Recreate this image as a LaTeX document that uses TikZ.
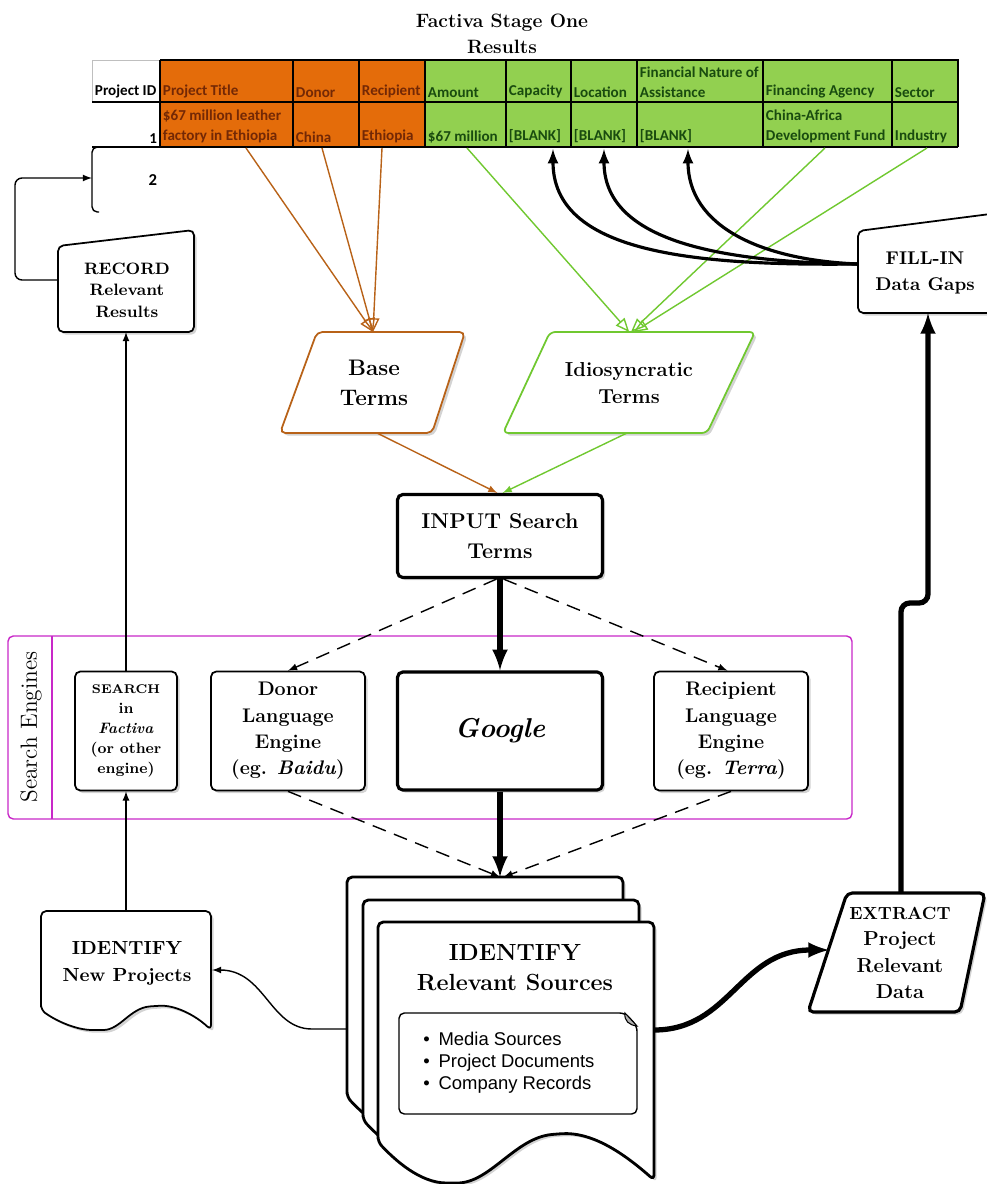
\documentclass[tikz,border=0pt]{standalone}
\usepackage{fontspec}
\newfontfamily\cellfont{Carlito}
\newfontfamily\listfont{Liberation Sans}
\usetikzlibrary{positioning,arrows,shadows}

\definecolor{cellorange}{RGB}{228,108,10}
\definecolor{cellgreen}{RGB}{146,208,80}
\definecolor{orangeink}{RGB}{115,40,5}
\definecolor{greenink}{RGB}{25,75,15}
\definecolor{basebrown}{RGB}{184,98,24}
\definecolor{idiogreen}{RGB}{112,200,48}
\definecolor{framepink}{RGB}{200,40,200}

\tikzset{
	procbox/.style={draw, line width=1pt, fill=white, rounded corners=3pt,
		drop shadow={shadow xshift=1.5pt, shadow yshift=-1.5pt, opacity=0.35}},
	heavybox/.style={procbox, line width=1.8pt},
	boxtext/.style={font=\bfseries, align=center, inner sep=0pt},
	cellhead/.style={anchor=south west, inner sep=1.5pt, align=left,
		font=\cellfont\bfseries\fontsize{8.6}{11.5}\selectfont},
	thinarrow/.style={draw, line width=0.8pt, -latex, rounded corners=4pt},
	heavyarrow/.style={draw, line width=3pt, -latex},
	fillarrow/.style={draw, line width=1.8pt, -latex},
	dasharrow/.style={draw, line width=0.8pt, dash pattern=on 8pt off 5pt, -latex},
	basearrow/.style={draw=basebrown, line width=0.8pt, -open triangle 45},
	idioarrow/.style={draw=idiogreen, line width=0.8pt, -open triangle 45},
	sheet/.style={draw, line width=1.6pt, fill=white, rounded corners=3pt,
		drop shadow={shadow xshift=1.5pt, shadow yshift=-1.5pt, opacity=0.35}}
}

\begin{document}
\begin{tikzpicture}[x=0.02cm, y=-0.02cm]
	\useasboundingbox (0,0) rectangle (987,1184);

	% Stage one table
	\node[boxtext, font=\bfseries\fontsize{11}{14.7}\selectfont] (title) at (502,34) {Factiva Stage One\\Results};
	\fill[cellorange] (160,60) rectangle (425,147);
	\fill[cellgreen] (425,60) rectangle (958,147);
	\draw[black!25] (160,60) -- (92,60) -- (92,102);
	\draw[line width=0.8pt] (160,60) -- (958,60) -- (958,147) (92,102) -- (958,102) (92,147) -- (958,147);
	\foreach \cx in {160,293,359,425,506,571,637,763,892}
		\draw[line width=0.8pt] (\cx,60) -- (\cx,147);

	\node[cellhead] (hdid) at (92,101) {Project ID};
	\node[cellhead, text=orangeink] (hdtitle) at (160,101) {Project Title};
	\node[cellhead, text=orangeink] (hddonor) at (293,101) {Donor};
	\node[cellhead, text=orangeink] (hdrecip) at (359,101) {Recipient};
	\node[cellhead, text=greenink] (hdamount) at (425,101) {Amount};
	\node[cellhead, text=greenink] (hdcap) at (506,101) {Capacity};
	\node[cellhead, text=greenink] (hdloc) at (571,101) {Location};
	\node[cellhead, text=greenink] (hdfin) at (637,101) {Financial Nature of\\Assistance};
	\node[cellhead, text=greenink] (hdagency) at (763,101) {Financing Agency};
	\node[cellhead, text=greenink] (hdsector) at (892,101) {Sector};

	\node[cellhead, anchor=south east] (idone) at (160,146) {1};
	\node[cellhead, text=orangeink] (dttitle) at (160,146) {\$67 million leather\\factory in Ethiopia};
	\node[cellhead, text=orangeink] (dtdonor) at (293,146) {China};
	\node[cellhead, text=orangeink] (dtrecip) at (359,146) {Ethiopia};
	\node[cellhead, text=greenink] (dtamount) at (425,146) {\$67 million};
	\node[cellhead, text=greenink] (dtcap) at (506,146) {[BLANK]};
	\node[cellhead, text=greenink] (dtloc) at (571,146) {[BLANK]};
	\node[cellhead, text=greenink] (dtfin) at (637,146) {[BLANK]};
	\node[cellhead, text=greenink] (dtagency) at (763,146) {China-Africa\\Development Fund};
	\node[cellhead, text=greenink] (dtsector) at (892,146) {Industry};

	% Row two
	\node[cellhead, anchor=east, font=\cellfont\bfseries\fontsize{9.5}{11}\selectfont] (idtwo) at (160,180) {2};
	\draw[line width=0.8pt, rounded corners=3pt] (100,147) -- (92,147) -- (92,212) -- (99,212);
	\coordinate (row2) at (92,178);

	\coordinate (titleC) at (246,148);
	\coordinate (donorC) at (322,148);
	\coordinate (recipC) at (382,148);
	\coordinate (amountC) at (467,148);
	\coordinate (capC) at (553,149);
	\coordinate (locC) at (604,149);
	\coordinate (finC) at (688,149);
	\coordinate (agencyC) at (825,148);
	\coordinate (sectorC) at (927,148);

	% Record
	\filldraw[procbox] (58,246) -- (194,230) -- (194,332) -- (58,332) -- cycle;
	\node[boxtext, font=\bfseries\fontsize{9.4}{12.2}\selectfont] (record) at (127,290) {RECORD\\Relevant\\Results};
	\coordinate (recordW) at (58,280);
	\coordinate (recordS) at (126,332);
	\draw[thinarrow] (recordW) -- (15,280) |- (row2);

	% Search terms
	\filldraw[procbox, draw=basebrown] (317,332) -- (465,332) -- (432,433) -- (280,433) -- cycle;
	\node[boxtext, font=\bfseries\fontsize{12.8}{17}\selectfont] (base) at (374,383) {Base\\Terms};
	\filldraw[procbox, draw=idiogreen] (550,332) -- (755,332) -- (707,433) -- (503,433) -- cycle;
	\node[boxtext, font=\bfseries\fontsize{11.5}{15.3}\selectfont] (idio) at (629,383) {Idiosyncratic\\Terms};
	\coordinate (baseN) at (373,332);
	\coordinate (baseS) at (377,433);
	\coordinate (idioN) at (631,332);
	\coordinate (idioS) at (627,433);

	\foreach \src in {titleC,donorC,recipC}
		\draw[basearrow] (\src) -- (baseN);
	\draw[idioarrow] (amountC) -- ([xshift=-1pt]idioN);
	\draw[idioarrow] (agencyC) -- (idioN);
	\draw[idioarrow] (sectorC) -- ([xshift=1.5pt]idioN);

	% Input
	\node[heavybox, boxtext, minimum width=4.1cm, minimum height=1.66cm, font=\bfseries\fontsize{12.2}{17.5}\selectfont] (input) at (500,536) {INPUT Search\\Terms};
	\draw[draw=basebrown, line width=0.8pt, -latex] (baseS) -- ([xshift=-1.5pt]input.north);
	\draw[draw=idiogreen, line width=0.8pt, -latex] (idioS) -- ([xshift=1.5pt]input.north);

	% Search engines
	\draw[framepink, line width=0.8pt, rounded corners=3pt] (8,636) rectangle (852,819);
	\draw[framepink, line width=0.8pt] (52,636) -- (52,819);
	\node[rotate=90, inner sep=0pt, font=\fontsize{13.3}{15}\selectfont] (enginelabel) at (31,727) {Search Engines};
	\node[procbox, boxtext, minimum width=2.04cm, minimum height=2.38cm, font=\bfseries\fontsize{8.6}{11.3}\selectfont] (search) at (126,731)
		{{\fontsize{7.2}{11.3}\selectfont SEARCH}\\in\\\textit{Factiva}\\(or other\\engine)};
	\node[procbox, boxtext, minimum width=3.08cm, minimum height=2.38cm, font=\bfseries\fontsize{11.2}{15}\selectfont] (donor) at (288,731)
		{Donor\\Language\\Engine\\(eg. \textit{Baidu})};
	\node[heavybox, boxtext, minimum width=4.1cm, minimum height=2.36cm, font=\bfseries\itshape\fontsize{15.5}{18}\selectfont] (google) at (500,731) {Google};
	\node[procbox, boxtext, minimum width=3.08cm, minimum height=2.38cm, font=\bfseries\fontsize{11.2}{15}\selectfont] (recipient) at (731,731)
		{Recipient\\Language\\Engine\\(eg. \textit{Terra})};

	\draw[heavyarrow] (input) -- (google);
	\draw[dasharrow] ([xshift=-2pt]input.south) -- (donor.north);
	\draw[dasharrow] ([xshift=2pt]input.south) -- ([xshift=-2pt]recipient.north);
	\draw[thinarrow] (search.north) -- (recordS);

	% Sources stack
	\foreach \dx/\dy in {-31/-45,-15/-22,0/0} {
		\begin{scope}[shift={(\dx,\dy)}]
			\filldraw[sheet] (378,1142) -- (378,922) -- (654,922) -- (654,1180)
				.. controls (620,1150) and (590,1132) .. (557,1134)
				.. controls (515,1138) and (490,1183) .. (452,1183)
				.. controls (420,1183) and (395,1160) .. (378,1142) -- cycle;
		\end{scope}
	}
	\node[boxtext, font=\bfseries\fontsize{13.3}{17}\selectfont] (sources) at (515,968) {IDENTIFY\\Relevant Sources};
	\filldraw[fill=white, line width=0.8pt, rounded corners=3pt] (399,1013) -- (625,1013) -- (637,1026) -- (637,1114) -- (399,1114) -- cycle;
	\filldraw[fill=black!30, line width=0.6pt] (625,1013) .. controls (624,1021) and (629,1025) .. (637,1026) -- cycle;
	\node[anchor=west, align=left, inner sep=0pt, font=\listfont\fontsize{10.5}{12.6}\selectfont] (kinds) at (423,1063)
		{\textbullet\hspace{5pt}Media Sources\\\textbullet\hspace{5pt}Project Documents\\\textbullet\hspace{5pt}Company Records};
	\coordinate (docsN) at (500,877);
	\coordinate (docsW) at (347,1029);
	\coordinate (docsE) at (654,1030);

	\draw[heavyarrow] (google) -- (docsN);
	\draw[dasharrow] (donor.south) -- (docsN);
	\draw[dasharrow] (recipient.south) -- ([xshift=2pt]docsN);

	% New projects
	\filldraw[procbox] (41,1010) -- (41,911) -- (211,911) -- (211,1030)
		.. controls (195,1015) and (175,1005) .. (155,1006)
		.. controls (130,1008) and (120,1030) .. (98,1030)
		.. controls (75,1030) and (55,1020) .. (41,1010) -- cycle;
	\node[boxtext, font=\bfseries\fontsize{10.8}{15.5}\selectfont] (newproj) at (127,963) {IDENTIFY\\New Projects};
	\coordinate (newN) at (126,911);
	\coordinate (newE) at (212,970);
	\draw[thinarrow] (newN) -- (search.south);
	\draw[line width=0.8pt, -latex] (docsW) -- (312,1029) .. controls (270,1029) and (265,970) .. (newE);

	% Extract
	\filldraw[heavybox] (847,893) -- (985,893) -- (960,1012) -- (808,1012) -- cycle;
	\node[boxtext, font=\bfseries\fontsize{11.5}{15}\selectfont] (extract) at (900,953)
		{{\fontsize{10}{15}\selectfont EXTRACT}\\Project\\Relevant\\Data};
	\coordinate (extractW) at (829,950);
	\coordinate (extractN) at (901,893);
	\draw[heavyarrow] (docsE) .. controls (730,1030) and (740,950) .. (extractW);

	% Fill in
	\filldraw[procbox] (858,231) -- (998,213) -- (998,313) -- (858,313) -- cycle;
	\node[boxtext, font=\bfseries\fontsize{10.5}{15}\selectfont] (fillin) at (925,273) {FILL-IN\\Data Gaps};
	\coordinate (fillW) at (858,264);
	\coordinate (fillS) at (928,313);
	\draw[heavyarrow, rounded corners=5pt] (extractN) -- (901,603) -- (928,603) -- (fillS);
	\draw[fillarrow] (fillW) .. controls (690,266) and (553,252) .. (capC);
	\draw[fillarrow] (fillW) .. controls (710,262) and (604,238) .. (locC);
	\draw[fillarrow] (fillW) .. controls (760,260) and (688,226) .. (finC);

\end{tikzpicture}
\end{document}
